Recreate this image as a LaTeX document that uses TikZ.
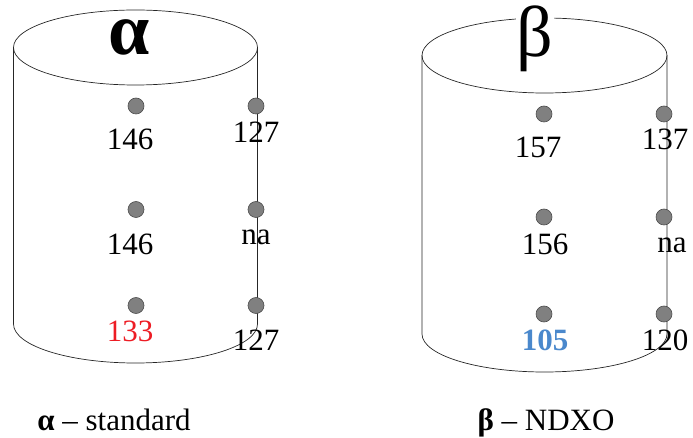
\documentclass[tikz,border=0pt]{standalone}
\usepackage{fontspec}
\setmainfont{Liberation Serif}
\definecolor{dotfill}{HTML}{808080}
\definecolor{dotline}{HTML}{4D4D4D}
\definecolor{redval}{HTML}{ED1C24}
\definecolor{blueval}{HTML}{4A88CC}
\begin{document}
\begin{tikzpicture}[x=1bp,y=-1bp,
  outline/.style={draw=black!85, line width=0.7bp},
  dot/.style={circle, fill=dotfill, draw=dotline, line width=0.6bp, minimum size=16bp, inner sep=0pt},
  num/.style={anchor=base, inner sep=0pt, font=\fontsize{31bp}{31bp}\selectfont},
  head/.style={anchor=base, fill=white, inner sep=1bp, font=\fontsize{72bp}{72bp}\selectfont},
  caption/.style={anchor=base, inner sep=0pt, font=\fontsize{31bp}{31bp}\selectfont}]
\useasboundingbox (0,0) rectangle (693,438);

% ---- cylinder alpha ----
\draw[outline] (135.5,47.5) ellipse[x radius=122bp, y radius=37.5bp];
\draw[outline] (13.5,47.5) -- (13.5,324)
  arc[start angle=180, end angle=360, x radius=122bp, y radius=39bp]
  -- (257.5,47.5);
\node[head, text height=35bp, text depth=1bp, font=\fontsize{74bp}{74bp}\selectfont\bfseries] (alpha) at (129,55) {α};

% ---- cylinder beta ----
\draw[outline] (544.5,55.5) ellipse[x radius=122.5bp, y radius=37.5bp];
\draw[outline] (422,55.5) -- (422,334)
  arc[start angle=180, end angle=360, x radius=122.5bp, y radius=38bp]
  -- (667,55.5);
\node[head, text height=47bp, text depth=15bp] (beta) at (535,57) {β};

% ---- dots alpha ----
\node[dot] (a1) at (136,106) {};
\node[dot] (a2) at (136,209.5) {};
\node[dot] (a3) at (136,305.5) {};
\node[dot] (b1) at (256,106) {};
\node[dot] (b2) at (256,209.5) {};
\node[dot] (b3) at (256,305.5) {};

% ---- dots beta ----
\node[dot] (c1) at (544,114) {};
\node[dot] (c2) at (544,217) {};
\node[dot] (c3) at (544,314) {};
\node[dot] (d1) at (664,114) {};
\node[dot] (d2) at (664,217) {};
\node[dot] (d3) at (664,314) {};

% ---- labels alpha ----
\node[num] (la1) at (130,150) {146};
\node[num] (la2) at (130,255) {146};
\node[num, text=redval] (la3) at (130,342) {133};
\node[num] (lb1) at (256,143) {127};
\node[num] (lb2) at (256,245) {na};
\node[num] (lb3) at (256,350) {127};

% ---- labels beta ----
\node[num] (lc1) at (538,158) {157};
\node[num] (lc2) at (545,255) {156};
\node[num, text=blueval, font=\fontsize{31bp}{31bp}\selectfont\bfseries] (lc3) at (545,350) {105};
\node[num] (ld1) at (665,150) {137};
\node[num] (ld2) at (672,253) {na};
\node[num] (ld3) at (665,350) {120};

% ---- captions ----
\node[caption] (capa) at (114,430) {\textbf{α} – standard};
\node[caption] (capb) at (546,430) {\textbf{β} – NDXO};
\end{tikzpicture}
\end{document}
